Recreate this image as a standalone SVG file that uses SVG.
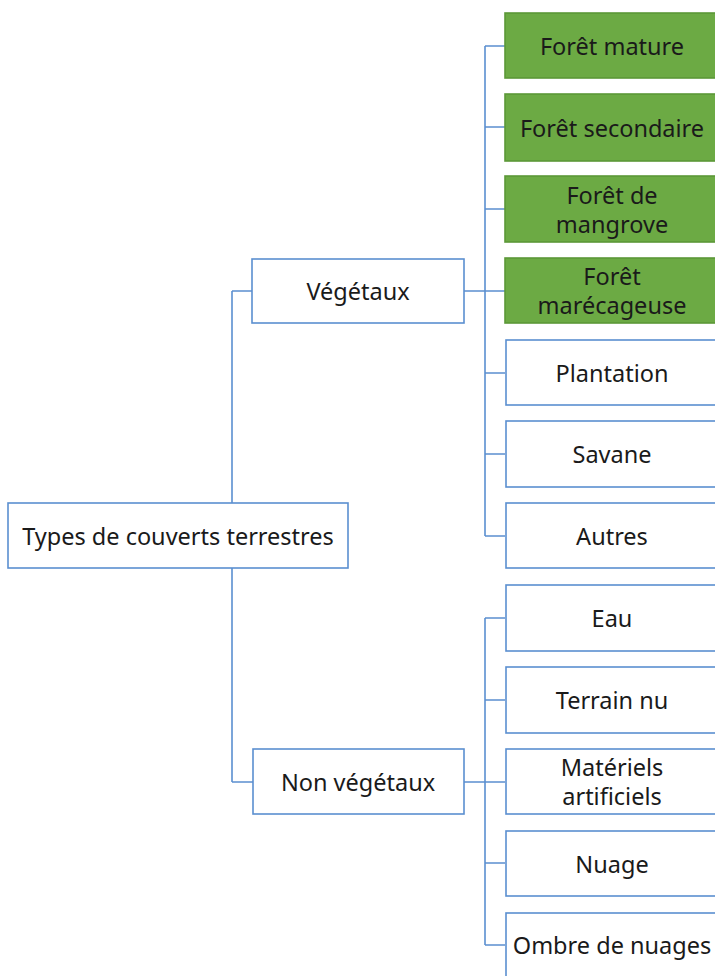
<svg xmlns="http://www.w3.org/2000/svg" width="715" height="976" viewBox="0 0 715 976">
<style>
.box{fill:#ffffff;stroke:#5b8fd0;stroke-width:1.6}
.g{fill:#6caa44;stroke:#5c9838;stroke-width:1.6}
.t{font-family:"Noto Sans","Open Sans",sans-serif;font-size:23.5px;fill:#1a1a1a;text-anchor:middle;dominant-baseline:central}
.c{stroke:#5b8fd0;stroke-width:1.6;fill:none}
</style>
<rect width="715" height="976" fill="#ffffff"/>
<g id="connectors">
<path class="c" d="M232,291 V782 M232,291 H252 M232,782 H253"/>
<path class="c" d="M464,291 H485 M485,46 V536 M485,46 H505 M485,127 H505 M485,209 H505 M485,291 H505 M485,373 H505 M485,454 H505 M485,536 H505"/>
<path class="c" d="M464,782 H485 M485,618 V945 M485,618 H505 M485,700 H505 M485,782 H505 M485,863 H505 M485,945 H505"/>
</g>
<g id="root"><rect class="box" x="8" y="503" width="340" height="65"/><text class="t" x="178" y="535.5">Types de couverts terrestres</text></g>
<g id="vegetaux"><rect class="box" x="252" y="259" width="212" height="64"/><text class="t" x="358" y="291">Végétaux</text></g>
<g id="nonvegetaux"><rect class="box" x="253" y="749" width="211" height="65"/><text class="t" x="358" y="781.5">Non végétaux</text></g>
<g id="foret-mature"><rect class="g" x="505" y="13" width="215" height="65"/><text class="t" x="612" y="45.5">Forêt mature</text></g>
<g id="foret-secondaire"><rect class="g" x="505" y="94" width="215" height="67"/><text class="t" x="612" y="127.5">Forêt secondaire</text></g>
<g id="foret-mangrove"><rect class="g" x="505" y="176" width="215" height="66"/><text class="t" x="612" y="194.5">Forêt de</text><text class="t" x="612" y="223.5">mangrove</text></g>
<g id="foret-marecageuse"><rect class="g" x="505" y="258" width="215" height="65"/><text class="t" x="612" y="276">Forêt</text><text class="t" x="612" y="305">marécageuse</text></g>
<g id="plantation"><rect class="box" x="506" y="340" width="214" height="65"/><text class="t" x="612" y="372.5">Plantation</text></g>
<g id="savane"><rect class="box" x="506" y="421" width="214" height="66"/><text class="t" x="612" y="454">Savane</text></g>
<g id="autres"><rect class="box" x="506" y="503" width="214" height="65"/><text class="t" x="612" y="535.5">Autres</text></g>
<g id="eau"><rect class="box" x="506" y="585" width="214" height="66"/><text class="t" x="612" y="618">Eau</text></g>
<g id="terrain-nu"><rect class="box" x="506" y="667" width="214" height="66"/><text class="t" x="612" y="700">Terrain nu</text></g>
<g id="materiels"><rect class="box" x="506" y="749" width="214" height="65"/><text class="t" x="612" y="767">Matériels</text><text class="t" x="612" y="796">artificiels</text></g>
<g id="nuage"><rect class="box" x="506" y="831" width="214" height="65"/><text class="t" x="612" y="863.5">Nuage</text></g>
<g id="ombre"><rect class="box" x="506" y="913" width="214" height="70"/><text class="t" x="612" y="945">Ombre de nuages</text></g>
</svg>
